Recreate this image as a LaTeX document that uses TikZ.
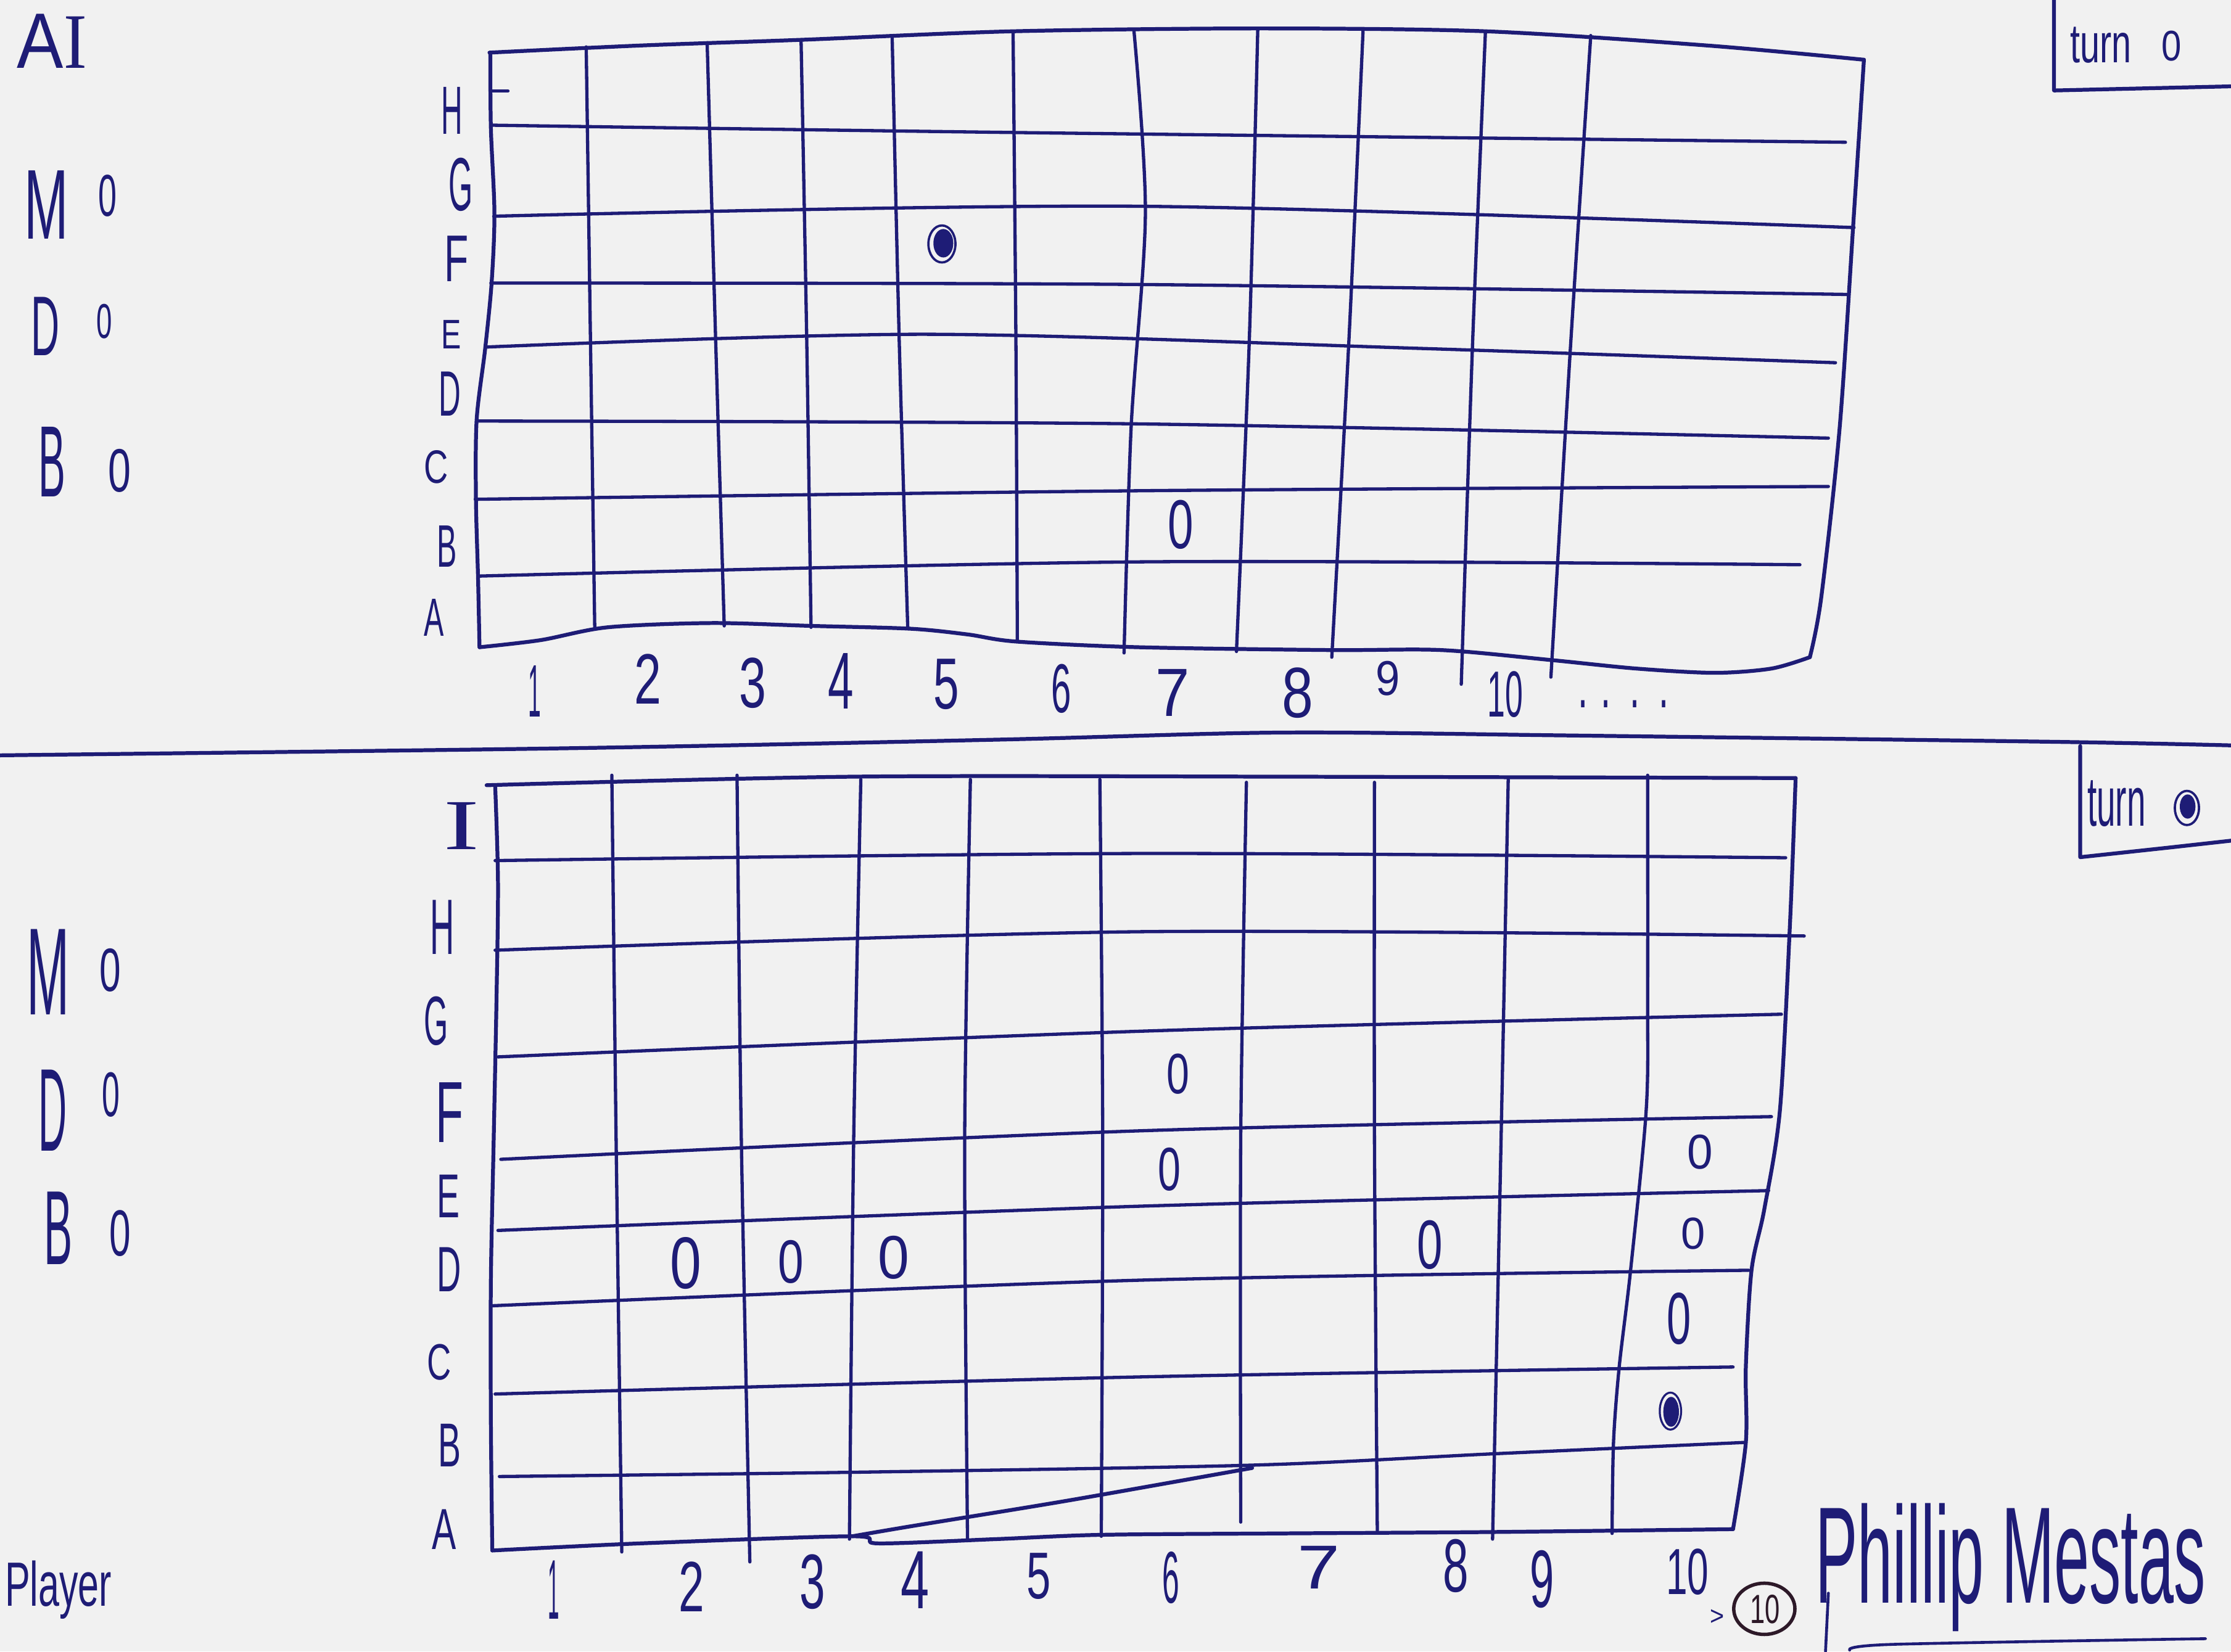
\documentclass[tikz,border=0pt]{standalone}
\usepackage{fontspec}
\usepackage{graphicx}
\newfontfamily\handfont{Liberation Sans}
\newfontfamily\handserif{Liberation Serif}
\definecolor{ink}{RGB}{30,28,118}
\definecolor{paper}{RGB}{241,241,241}
\definecolor{darkink}{RGB}{45,25,40}
\newcommand\hw[3]{\resizebox{#1pt}{#2pt}{#3}}
\newcommand\hwt[3]{\resizebox*{#1pt}{#2pt}{#3}}
\tikzset{
  pen/.style={draw=ink, line width=2.3pt, line cap=round, line join=round},
  frame/.style={pen, line width=2.7pt},
  lab/.style={inner sep=0pt, outer sep=0pt, text=ink, font=\handfont},
}
\begin{document}
\begin{tikzpicture}[x=1pt,y=-1pt]
\fill[paper] (0,0) rectangle (1568,1161);
\useasboundingbox (0,0) rectangle (1568,1161);

% ================= TOP GRID (AI) =================
\draw[frame] plot[smooth,tension=0.5] coordinates {(344,37) (450,32) (563,28) (712,22) (884,20) (1044,22) (1200,32) (1310,42)};
\draw[frame] plot[smooth,tension=0.5] coordinates {(1310,42) (1303,150) (1293,300) (1280,420) (1272,462)};
\draw[frame] plot[smooth,tension=0.5] coordinates {(337,455) (380,450) (427,441) (500,438) (570,440) (640,442) (680,446) (714,451) (800,455) (935,457) (1013,457) (1090,464) (1150,470) (1205,473) (1245,470) (1272,462)};
\draw[frame] plot[smooth,tension=0.5] coordinates {(337,455) (336,407) (334.5,351) (335,295) (341,245) (345.5,199) (347.5,150) (345,90) (344.6,37)};
\draw[pen] (345,64) -- (357,64);
\draw[pen] plot[smooth,tension=0.5] coordinates {(345,88) (700,93) (1297,100)};
\draw[pen] plot[smooth,tension=0.5] coordinates {(347,152) (800,145) (1303,160)};
\draw[pen] plot[smooth,tension=0.5] coordinates {(345,199) (800,200) (1298,207)};
\draw[pen] plot[smooth,tension=0.5] coordinates {(341,244) (650,235) (1000,245) (1290,255)};
\draw[pen] plot[smooth,tension=0.5] coordinates {(335,296) (800,298) (1285,308)};
\draw[pen] plot[smooth,tension=0.5] coordinates {(334,351) (800,345) (1285,342)};
\draw[pen] plot[smooth,tension=0.5] coordinates {(336,405) (800,395) (1265,397)};
\draw[pen] plot[smooth,tension=0.5] coordinates {(412,33) (415,240) (418,442)};
\draw[pen] plot[smooth,tension=0.5] coordinates {(497,30) (503,240) (509,440)};
\draw[pen] plot[smooth,tension=0.5] coordinates {(563,28) (567,240) (570,441)};
\draw[pen] plot[smooth,tension=0.5] coordinates {(627,25) (632,240) (638,442)};
\draw[pen] plot[smooth,tension=0.5] coordinates {(712,22) (714,240) (715,451)};
\draw[pen] plot[smooth,tension=0.5] coordinates {(797,22) (805,150) (795,300) (790,459)};
\draw[pen] plot[smooth,tension=0.5] coordinates {(884,20) (878,240) (869,458)};
\draw[pen] plot[smooth,tension=0.5] coordinates {(958,21) (948,240) (936,462)};
\draw[pen] plot[smooth,tension=0.5] coordinates {(1044,22) (1035,240) (1027,481)};
\draw[pen] plot[smooth,tension=0.5] coordinates {(1118,25) (1104,240) (1090,476)};

\foreach \n/\x/\y/\w/\h in {H/317.5/78/15/33, G/324/130/17/37, F/321/182/17/32, E/317/235/14/20, D/316/277/15.5/31, C/306.5/328.5/17/23, B/314/384/14/29, A/305/434/14/26}
  \node[lab,name=tr\n] at (\x,\y) {\hw{\w}{\h}{\n}};
\foreach \n/\x/\y/\w/\h in {1/376/486/9/36, 2/455.5/477.5/19/35, 3/529/480/19/35, 4/591/479/18/39, 5/665/481/18/35, 6/746/484/14/34, 7/824/487/24/33, 8/912/487/22/35, 9/975.5/477/17/24, 10/1058/488/25/32}
  \node[lab,name=tc\n] at (\x,\y) {\hw{\w}{\h}{\n}};
\node[lab,name=tdots] at (1141,495) {\hw{64}{5}{. .\, .\, .}};

\node[lab,name=tz1] at (830,369) {\hw{18}{34}{0}};
\draw[ink,line width=1.6pt] (662,171.5) ellipse [x radius=9.5, y radius=13];
\fill[ink] (663,171) ellipse [x radius=7, y radius=10];

% ================= SEPARATOR & TURN BOXES =================
\draw[frame] plot[smooth,tension=0.5] coordinates {(0,531) (400,526) (700,520) (900,515) (1100,517) (1444,521.5) (1568,524)};
\draw[frame] (1443.6,0) -- (1443.6,63.6) -- (1568,60.7);
\node[lab,name=turnA] at (1476.5,31.5) {\hw{43}{25}{turn}};
\node[lab,name=turnAv] at (1526,32.5) {\hw{14}{21}{0}};
\draw[frame] (1462,524.5) -- (1462,602.6) -- (1523,596) -- (1568,591);
\node[lab,name=turnB] at (1487.5,565) {\hw{41}{32}{turn}};
\draw[ink,line width=1.6pt] (1537,568) ellipse [x radius=8.5, y radius=12];
\fill[ink] (1537.5,567) ellipse [x radius=5.5, y radius=8.5];

% ================= BOTTOM GRID (Player) =================
\draw[frame] plot[smooth,tension=0.5] coordinates {(342,552) (600,546) (900,546) (1262,547)};
\draw[frame] plot[smooth,tension=0.5] coordinates {(1262,547) (1258,650) (1251,780) (1240,850) (1231,893) (1227,961) (1227,1014) (1218,1075)};
\draw[frame] plot[smooth,tension=0.5] coordinates {(346,1090) (450,1085) (599,1080) (617,1085) (700,1082) (773,1079) (900,1078) (1050,1077) (1218,1075)};
\draw[frame] plot[smooth,tension=0.5] coordinates {(348,552) (350,620) (349,700) (347,800) (345,900) (345,1000) (346,1090)};
\draw[pen] plot[smooth,tension=0.5] coordinates {(348,605) (800,600) (1255,603)};
\draw[pen] plot[smooth,tension=0.5] coordinates {(348,668) (800,655) (1268,658)};
\draw[pen] plot[smooth,tension=0.5] coordinates {(350,743) (800,725) (1252,713)};
\draw[pen] plot[smooth,tension=0.5] coordinates {(352,815) (800,795) (1245,785)};
\draw[pen] plot[smooth,tension=0.5] coordinates {(350,865) (800,848) (1243,837)};
\draw[pen] plot[smooth,tension=0.5] coordinates {(345,918) (800,900) (1229,893)};
\draw[pen] plot[smooth,tension=0.5] coordinates {(348,980) (800,968) (1218,961)};
\draw[pen] plot[smooth,tension=0.5] coordinates {(351,1038) (600,1035) (880,1030) (1050,1022) (1227,1014)};
\draw[frame] plot[smooth,tension=0.5] coordinates {(599,1080) (640,1073) (750,1055) (880,1032)};
\draw[pen] plot[smooth,tension=0.5] coordinates {(430,545) (433,800) (437,1091)};
\draw[pen] plot[smooth,tension=0.5] coordinates {(518,545) (521,800) (527,1098)};
\draw[pen] plot[smooth,tension=0.5] coordinates {(605,548) (600,800) (597,1082)};
\draw[pen] plot[smooth,tension=0.5] coordinates {(682,548) (678,800) (680,1083)};
\draw[pen] plot[smooth,tension=0.5] coordinates {(773,548) (775,800) (774,1080)};
\draw[pen] plot[smooth,tension=0.5] coordinates {(876,550) (872,800) (872,1070)};
\draw[pen] plot[smooth,tension=0.5] coordinates {(966,550) (966,800) (968,1076)};
\draw[pen] plot[smooth,tension=0.5] coordinates {(1060,548) (1055,800) (1049,1082)};
\draw[pen] plot[smooth,tension=0.5] coordinates {(1158,545) (1158,700) (1157,780) (1146,893) (1138,961) (1134,1014) (1133,1078)};

\node[lab,name=brI] at (324.5,580.5) {\hw{25}{33}{\handserif I}};
\foreach \n/\x/\y/\w/\h in {H/311/652/17/38, G/306.5/718/17/34, F/316/782/19.5/42, E/315/841/16/30, D/315.5/892.5/17/31, C/308.5/957.5/17/25, B/316/1016/16/30, A/312/1075/17/28}
  \node[lab,name=br\n] at (\x,\y) {\hw{\w}{\h}{\n}};
\foreach \n/\x/\y/\w/\h in {1/389/1117.5/8/41, 2/486/1115.5/18/35, 3/571/1112/18/38, 4/643/1111/20/40, 5/730/1108/17/32, 6/823/1109/12/36, 7/927/1102/30/30, 8/1023/1101/18/37, 9/1084/1110/17/40, 10/1186/1105/30/32}
  \node[lab,name=bc\n] at (\x,\y) {\hw{\w}{\h}{\n}};

\foreach \i/\x/\y/\w/\h in {1/828/755/16/28, 2/822/822/16/30, 3/482/888/22/36, 4/556/887/18/30, 5/628/884/22/30, 6/1005/875/18/34, 7/1195/810/18/24, 8/1190/867/17/22, 9/1180/927/17/36}
  \node[lab,name=bz\i] at (\x,\y) {\hw{\w}{\h}{0}};
\draw[ink,line width=1.4pt] (1174,992) ellipse [x radius=7.5, y radius=13];
\fill[ink] (1174.5,992.5) ellipse [x radius=5.5, y radius=10.5];

% ================= LEFT LABELS =================
\node[lab,name=ai] at (36.5,29) {\hw{49}{38}{A{\handserif I}}};
\node[lab,name=aM] at (32.5,144) {\hw{31}{48}{M}};
\node[lab,name=aMv] at (75.5,137.5) {\hw{13}{29}{0}};
\node[lab,name=aD] at (32,229.5) {\hw{20}{41}{D}};
\node[lab,name=aDv] at (73.5,226) {\hw{11}{24}{0}};
\node[lab,name=aB] at (36.5,324.5) {\hw{19}{49}{B}};
\node[lab,name=aBv] at (84,331) {\hw{16}{30}{0}};

\node[lab,name=pM] at (34,683.5) {\hw{30}{60}{M}};
\node[lab,name=pMv] at (77.5,682) {\hw{15}{30}{0}};
\node[lab,name=pD] at (37,780.5) {\hw{20}{57}{D}};
\node[lab,name=pDv] at (78,769.5) {\hw{12.5}{31}{0}};
\node[lab,name=pB] at (41,863.5) {\hw{20}{51}{B}};
\node[lab,name=pBv] at (84.5,867) {\hw{15}{32}{0}};
\node[lab,name=player] at (41,1117.5) {\hwt{75}{41}{Player}};

% ================= SIGNATURE =================
\node[lab,name=gt] at (1207,1137) {\hw{10}{11}{>}};
\draw[darkink,line width=2.4pt] (1240,1131) ellipse [x radius=21.5, y radius=18];
\node[lab,name=ten,text=darkink] at (1240.5,1131.5) {\hw{21}{20}{10}};
\node[lab,name=sig,anchor=base west] at (1276,1127) {\hw{274}{70}{Phillip Mestas}};
\draw[pen,line width=2pt] (1285,1120) -- (1283,1161);
\draw[pen,line width=2pt] plot[smooth,tension=0.5] coordinates {(1300,1160) (1330,1156) (1550,1152)};
\end{tikzpicture}
\end{document}
